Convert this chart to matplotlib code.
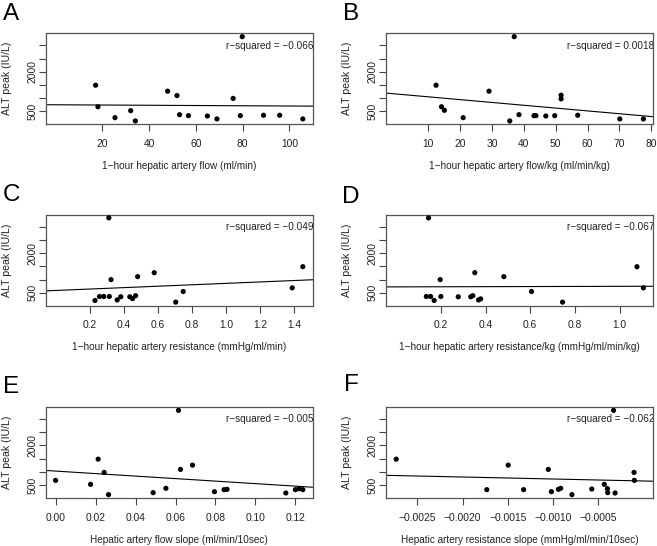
import numpy as np
import matplotlib
matplotlib.use("Agg")
import matplotlib.pyplot as plt

plt.rcParams['font.family'] = ['Liberation Sans', 'DejaVu Sans']

# ---------------- data ----------------
a_x = [17.1, 18.1, 25.4, 32.1, 34.1, 47.9, 51.9, 53.0, 56.8, 64.9, 69.0, 75.9, 79.0, 79.8, 88.9, 95.8, 105.7]
a_y = [1489, 673, 259, 523, 135, 1263, 1098, 372, 335, 323, 210, 989, 335, 3331, 350, 350, 210]

b_x = [12.5, 14.2, 15.1, 21.0, 29.1, 35.6, 37.0, 38.5, 43.2, 43.8, 46.9, 49.7, 51.7, 51.7, 56.9, 70.1, 77.5]
b_y = [1489, 673, 538, 259, 1263, 135, 3331, 372, 335, 335, 323, 335, 1110, 972, 350, 210, 210]

c_x = [0.231, 0.257, 0.282, 0.312, 0.315, 0.325, 0.361, 0.382, 0.435, 0.451, 0.469, 0.481, 0.578, 0.704, 0.748, 1.387, 1.449]
c_y = [210, 361, 361, 3340, 361, 1000, 230, 350, 350, 280, 390, 1113, 1263, 147, 549, 688, 1490]

d_x = [0.135, 0.145, 0.154, 0.170, 0.197, 0.200, 0.278, 0.334, 0.343, 0.352, 0.369, 0.378, 0.482, 0.606, 0.745, 1.078, 1.107]
d_y = [361, 3340, 361, 210, 1000, 361, 350, 350, 390, 1263, 230, 270, 1113, 549, 147, 1490, 688]

e_x = [0.000, 0.0175, 0.0213, 0.0243, 0.0265, 0.0488, 0.0552, 0.0615, 0.0625, 0.0685, 0.0795, 0.0843, 0.0858, 0.1152, 0.1200, 0.1218, 0.1237]
e_y = [675, 525, 1477, 976, 137, 212, 375, 3319, 1089, 1252, 249, 325, 337, 199, 325, 362, 325]

f_x = [-0.002734, -0.001732, -0.001495, -0.001325, -0.001052, -0.001018, -0.000940, -0.000915, -0.000791,
       -0.000571, -0.000433, -0.000398, -0.000395, -0.000330, -0.000313, -0.000104, -0.000100]
f_y = [1477, 325, 1252, 325, 1089, 249, 337, 375, 137, 350, 525, 362, 212, 3319, 199, 976, 675]

panel_letters = ["A", "B", "C", "D", "E", "F"]
x_labels = ["1\u2212hour hepatic artery flow (ml/min)",
            "1\u2212hour hepatic artery flow/kg (ml/min/kg)",
            "1\u2212hour hepatic artery resistance (mmHg/ml/min)",
            "1\u2212hour hepatic artery resistance/kg (mmHg/ml/min/kg)",
            "Hepatic artery flow slope (ml/min/10sec)",
            "Hepatic artery resistance slope (mmHg/ml/min/10sec)"]
r_squared_texts = ["r\u2212squared = \u22120.066", "r\u2212squared = 0.0018", "r\u2212squared = \u22120.049",
                   "r\u2212squared = \u22120.067", "r\u2212squared = \u22120.005", "r\u2212squared = \u22120.062"]
y_label = "ALT peak (IU/L)"
y_ticks = [500, 1000, 1500, 2000, 2500, 3000]
y_ticklabels = ["500", "", "", "2000", "", ""]
x_ticks = [[20, 40, 60, 80, 100],
           [10, 20, 30, 40, 50, 60, 70, 80],
           [0.2, 0.4, 0.6, 0.8, 1.0, 1.2, 1.4],
           [0.2, 0.4, 0.6, 0.8, 1.0],
           [0.00, 0.02, 0.04, 0.06, 0.08, 0.10, 0.12],
           [-0.0025, -0.0020, -0.0015, -0.0010, -0.0005]]
x_ticklabels = [["20", "40", "60", "80", "100"],
                ["10", "20", "30", "40", "50", "60", "70", "80"],
                ["0.2", "0.4", "0.6", "0.8", "1.0", "1.2", "1.4"],
                ["0.2", "0.4", "0.6", "0.8", "1.0"],
                ["0.00", "0.02", "0.04", "0.06", "0.08", "0.10", "0.12"],
                ["\u22120.0025", "\u22120.0020", "\u22120.0015", "\u22120.0010", "\u22120.0005"]]

xs = [a_x, b_x, c_x, d_x, e_x, f_x]
ys = [a_y, b_y, c_y, d_y, e_y, f_y]

# ---------------- layout ----------------
W, H = 657, 546
fig = plt.figure(figsize=(W / 100, H / 100), dpi=100)

col_left = [45.7, 386.3]
ax_w = 267
row_top = [33.3, 214.5, 407]
ax_h = 91
letter_pos = [(3, 3), (343, 3), (3, 184), (342, 186), (3, 376), (344, 374)]

fs_tick = 7.4
fs_lab = 7.2
dark = "#222222"
for i in range(6):
    r, c = divmod(i, 2)
    l = col_left[c]
    t = row_top[r]
    ax = fig.add_axes([l / W, 1 - (t + ax_h) / H, ax_w / W, ax_h / H])
    x = np.array(xs[i], dtype=float)
    y = np.array(ys[i], dtype=float)
    ax.scatter(x, y, s=14, color="black", edgecolors="none", zorder=3)
    ax.margins(0.04)
    m, b = np.polyfit(x, y, 1)
    ax.axline((0.0, b), slope=m, color="black", lw=0.8, zorder=2)

    ax.set_yticks(y_ticks)
    ax.set_yticklabels(y_ticklabels)
    ax.set_xticks(x_ticks[i])
    ax.set_xticklabels(x_ticklabels[i])
    ax.tick_params(axis="both", direction="out", length=5, width=0.8, colors="#444444",
                   labelcolor=dark, labelsize=fs_tick)
    ax.tick_params(axis="x", pad=5.5)
    ax.tick_params(axis="y", pad=1, labelrotation=90)
    for lab in ax.get_yticklabels():
        lab.set_va("center")
    for sp in ax.spines.values():
        sp.set_color("#555555")
        sp.set_linewidth(0.9)

    ax.set_xlabel(x_labels[i], fontsize=fs_lab, color=dark)
    ax.xaxis.set_label_coords(0.5, -42 / ax_h)
    ax.xaxis.label.set_va("center")
    ax.set_ylabel(y_label, fontsize=fs_tick + 0.2, color=dark)
    ax.yaxis.set_label_coords(-39 / ax_w, 0.5)
    ax.yaxis.label.set_va("center")

    ax.text(0.675, 0.865, r_squared_texts[i], transform=ax.transAxes, fontsize=fs_lab,
            color=dark, ha="left", va="center", clip_on=True)

    lx, ly = letter_pos[i]
    fig.text(lx / W, 1 - ly / H, panel_letters[i], fontsize=17.5, ha="left", va="top", color="black")

fig.savefig("out.png", dpi=100)
